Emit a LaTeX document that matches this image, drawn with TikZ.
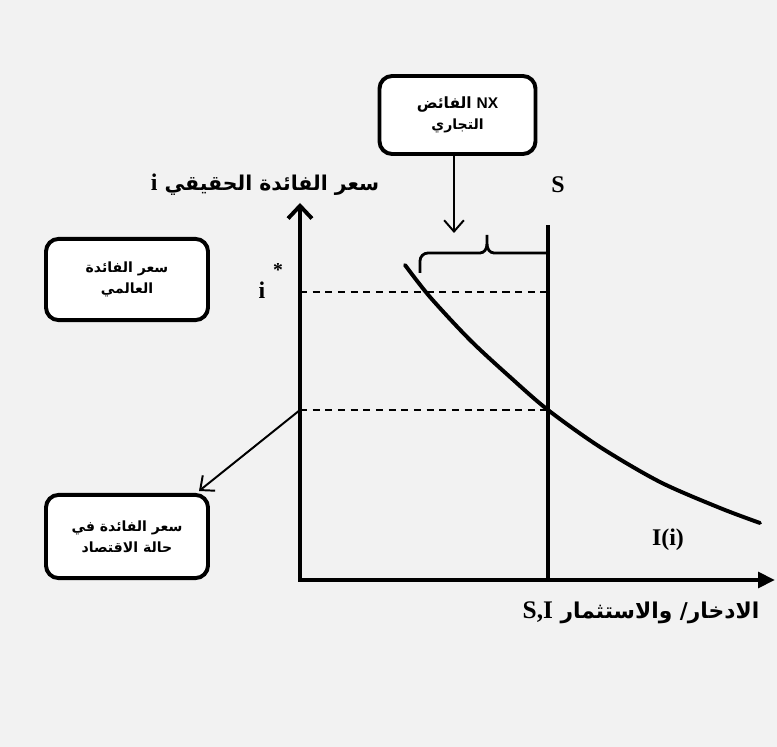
\documentclass[tikz,border=0pt]{standalone}
\usepackage{fontspec}
\setmainfont{Liberation Serif}
\newfontfamily\arabicfont[Script=Arabic]{DejaVu Sans}
\newfontfamily\nxfont{Liberation Sans}
\TeXXeTstate=1
\usetikzlibrary{arrows.meta}
\definecolor{bgcol}{RGB}{242,242,242}

\tikzset{
  infobox/.style={draw,line width=2.8pt,fill=white,rounded corners=9pt,align=center,
    minimum width=3.9cm,minimum height=1.95cm,inner sep=2pt,
    font=\arabicfont\bfseries\fontsize{10}{15}\selectfont},
  axisline/.style={line width=2.8pt},
  guide/.style={line width=0.8pt,dash pattern=on 5pt off 4pt},
  pointer/.style={line width=1.4pt,-{Straight Barb[length=8pt,width=14pt]}},
  latinlabel/.style={font=\bfseries\fontsize{17}{20}\selectfont},
  arlabel/.style={font=\arabicfont\bfseries\fontsize{14.5}{17}\selectfont}
}

\begin{document}
\begin{tikzpicture}[x=0.025cm,y=-0.025cm]
  \fill[bgcol] (0,0) rectangle (777,747);
  \useasboundingbox (0,0) rectangle (777,747);

  % axes and points on them
  \coordinate (origin) at (300,580);
  \coordinate (ytop) at (300,203);
  \coordinate (xend) at (775,580);
  \coordinate (stop) at (548,225);
  \coordinate (sbot) at (548,582);
  \coordinate (istar) at (300,292);
  \coordinate (istarS) at (548,292);
  \coordinate (eq) at (300,410);
  \coordinate (eqS) at (548,410);
  \coordinate (nxtip) at (454,233);
  \coordinate (econtip) at (199,491);

  \draw[guide] (istar) -- (istarS);
  \draw[guide] (eq) -- (eqS);
  \draw[axisline,shorten <=-1.4pt,-{Triangle[length=12pt,width=11pt]}] (origin) -- (xend);
  \draw[axisline,-{Straight Barb[length=9pt,width=17pt]}] (origin) -- (ytop);
  \draw[axisline] (sbot) -- (stop);

  % investment curve
  \draw[axisline,line cap=round] plot[smooth] coordinates {(405,265) (430,297) (470,340) (510,377) (548,410) (600,447) (660,482) (720,508) (760,523)};

  % brace for the surplus
  \draw[line width=2pt] (420,273) -- (420,261) to[out=90,in=180] (428,253) -- (480,253)
    to[out=0,in=-90] (487,244) -- (487,235);
  \draw[line width=2pt] (487,244) to[out=-90,in=180] (494,253) -- (548,253);

  % boxes
  \node[infobox] (nx) at (457.5,115) {\beginR\beginL{\nxfont\fontsize{11}{15}\selectfont NX}\endL{} {\fontsize{11}{15}\selectfont الفائض}\endR\\\beginR التجاري\endR};
  \node[infobox,minimum width=4.05cm,minimum height=2.03cm] (world) at (127,279.5) {\beginR سعر الفائدة\endR\\\beginR العالمي\endR};
  \node[infobox,minimum width=4.05cm,minimum height=2.08cm] (econ) at (127,536.5) {\beginR سعر الفائدة في\endR\\\beginR حالة الاقتصاد\endR};

  \draw[pointer] (nxtip |- nx.south) -- (nxtip);
  \draw[pointer] (eq) -- (econtip);

  % labels
  \node[arlabel] (ylab) at (265,185) {\beginR سعر الفائدة الحقيقي {\rmfamily\fontsize{17}{20}\selectfont i}\endR};
  \node[arlabel,font=\arabicfont\bfseries\fontsize{15.5}{18}\selectfont] (xlab) at (641,613) {\beginR الادخار/ والاستثمار \beginL{\rmfamily\fontsize{18}{20}\selectfont S,I}\endL\endR};
  \node[latinlabel] (slab) at (558,185) {S};
  \node[latinlabel] (ilab) at (262,290) {i};
  \node[font=\bfseries\fontsize{14}{16}\selectfont] (star) at (278,270) {*};
  \node[latinlabel] (curvelab) at (668,540) {I(i)};
\end{tikzpicture}
\end{document}
